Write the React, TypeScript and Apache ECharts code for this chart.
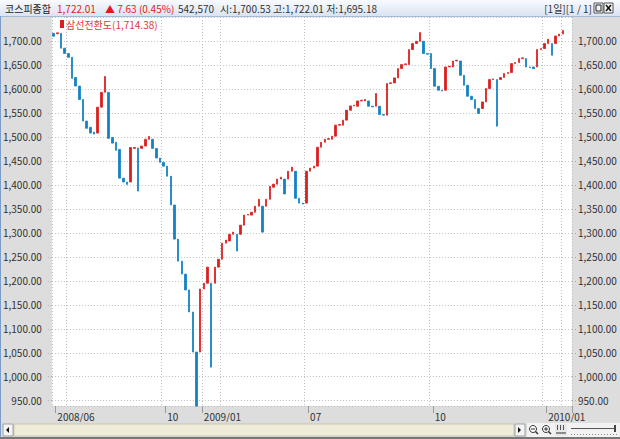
import React, { useEffect, useRef } from 'react';
import * as echarts from 'echarts';

// ---- data ----
const SERIES_NAME = '삼선전환도';
const LEGEND_VALUE = 1714.38;
const TITLE_NAME = '코스피종합';
const TITLE_PRICE = '1,722.01';
const TITLE_CHANGE = '▲ 7.63 (0.45%)';
const TITLE_VOLUME = '542,570';
const TITLE_OHL = '시:1,700.53 고:1,722.01 저:1,695.18';
const TITLE_PAGE = '[1일][1 / 1]';

// open / close of each three-line-break bar (in order)
const barOpen = [
  1716, 1715, 1716, 1685, 1674, 1666, 1624, 1606, 1578, 1533,
  1520, 1510, 1508, 1562, 1593, 1593, 1499, 1489, 1474, 1414,
  1406, 1406, 1476, 1477, 1476, 1481, 1495, 1495, 1476, 1456,
  1447, 1439, 1418, 1358, 1287, 1241, 1214, 1181, 1135, 1051.5,
  1051.5, 1183, 1195, 1195, 1195, 1228.5, 1245, 1278.5, 1283, 1297,
  1297, 1297, 1316, 1337, 1337, 1343, 1355.6, 1355.6, 1355.6, 1370,
  1395, 1401.5, 1412, 1412, 1412, 1428.5, 1428.5, 1372, 1362, 1362,
  1428.5, 1435, 1439, 1478.5, 1489, 1495, 1495, 1501.5, 1524.4, 1524.4,
  1535, 1555.6, 1564.6, 1564, 1575, 1575, 1575, 1564, 1564, 1564,
  1546.7, 1545.2, 1611.3, 1612.5, 1623, 1642.5, 1650.8, 1650.8, 1682, 1694.6,
  1699.4, 1699.4, 1673.8, 1673.8, 1642.5, 1605.6, 1597.3, 1597.3, 1645.8, 1645.8,
  1658.3, 1658.3, 1628.5, 1607.7, 1584.8, 1577.9, 1559.2, 1559.2, 1572.9, 1600.8,
  1619.6, 1619.6, 1619.6, 1623.8, 1632.1, 1634.2, 1652.9, 1655, 1663.3, 1663.3,
  1645.8, 1645.8, 1645.8, 1682.1, 1684.2, 1694.6, 1694.6, 1694.6, 1710.4, 1714.38,
];
const barClose = [
  1710, 1717, 1685, 1674, 1666, 1622, 1606, 1578, 1533, 1518,
  1508, 1506, 1562, 1593, 1626, 1497, 1487, 1472, 1414, 1406,
  1401, 1478, 1478, 1387, 1481, 1495, 1501, 1476, 1456, 1447,
  1439, 1418, 1358, 1287, 1241, 1214, 1181, 1135, 1051.5, 938.75,
  1183, 1195, 1228.5, 1020, 1228.5, 1245, 1278.5, 1285, 1297, 1301.5,
  1262, 1316, 1337, 1338.5, 1343, 1355.6, 1370, 1301.5, 1370, 1397,
  1401.5, 1412, 1416, 1381, 1428.5, 1437, 1372, 1362, 1360, 1428.5,
  1435, 1439, 1478.5, 1489, 1495, 1496.5, 1501.5, 1524.4, 1526, 1535,
  1555.6, 1564.6, 1566, 1575, 1576.5, 1578, 1564, 1562.5, 1590.4, 1546.7,
  1545.2, 1611.3, 1612.8, 1623, 1642.5, 1650.8, 1652.3, 1682, 1694.6, 1699.4,
  1717.5, 1673.8, 1672.5, 1642.5, 1605.6, 1597.3, 1595.8, 1645.8, 1647.3, 1658.3,
  1659.8, 1628.5, 1607.7, 1584.8, 1577.9, 1559.2, 1548.8, 1572.9, 1600.8, 1619.6,
  1621, 1522.3, 1623.8, 1632.1, 1634.2, 1652.9, 1655, 1663.3, 1664.8, 1645.8,
  1644.3, 1642.5, 1682.1, 1684.2, 1694.6, 1703.5, 1670.2, 1710.4, 1714.38, 1722.01,
];
const EMPTY_SLOTS = 2;
const categories: string[] = [...barOpen.map((_, i) => String(i + 1)), ...Array.from({ length: EMPTY_SLOTS }, (_, i) => 'e' + i)];

// x axis tick labels (slot index where each label begins)
const xTickIndex = [1, 31, 41, 70, 104, 135];
const xTickLabels = ['2008/06', '10', '2009/01', '07', '10', '2010/01'];
// vertical grid lines (slot boundaries)
const xGridIndex = [0, 4, 30, 41, 46, 69, 103, 134, 139];

const Y_MIN = 939;
const Y_MAX = 1750;

const RED = '#DC1E1E';
const BLUE = '#1282C4';
const FONT = "'Liberation Sans Narrow', 'Arial Narrow', 'Noto Sans CJK KR', sans-serif";

const fmt = (v: number) =>
  v.toLocaleString('en-US', { minimumFractionDigits: 2, maximumFractionDigits: 2 });

export default function App() {
  const ref = useRef<HTMLDivElement>(null);
  useEffect(() => {
    if (!ref.current) return;
    const chart = echarts.init(ref.current, undefined, { renderer: 'svg' });
    const data = barOpen.map((o, i) => {
      const c = barClose[i];
      return [o, c, Math.min(o, c), Math.max(o, c)];
    });
    const gridLine = { color: '#BDBDBD', type: [1, 2] as any, width: 1 };
    const txt = (x: number, text: string, fill: string, align = 'left') => ({
      type: 'text',
      x,
      y: 8,
      silent: true,
      style: { text, fill, fontSize: 10, fontFamily: FONT, align, verticalAlign: 'middle' },
      z: 10,
    });
    chart.setOption({
      animation: false,
      backgroundColor: '#DDDDDD',
      grid: {
        left: 48,
        right: 48,
        top: 17,
        bottom: 33,
        show: true,
        backgroundColor: '#FFFFFF',
        borderWidth: 0,
      },
      legend: {
        show: true,
        data: [SERIES_NAME],
        left: 60,
        top: 19,
        icon: 'rect',
        itemWidth: 2,
        itemHeight: 6,
        itemGap: 0,
        padding: 0,
        formatter: (n: string) => `${n}(${fmt(LEGEND_VALUE)})`,
        textStyle: { color: '#D83A3A', fontSize: 10, fontFamily: FONT, padding: [0, 0, 0, -2] },
      },
      xAxis: {
        type: 'category',
        data: categories,
        boundaryGap: true,
        axisLine: { show: false },
        axisTick: {
          show: true,
          length: 7,
          interval: (i: number) => xTickIndex.includes(i),
          lineStyle: { color: '#9A9A9A' },
        },
        axisLabel: {
          show: true,
          interval: (i: number) => xTickIndex.includes(i),
          formatter: (_v: string, i: number) => {
            const k = xTickIndex.indexOf(i);
            return k >= 0 ? xTickLabels[k] : '';
          },
          align: 'left',
          margin: 5,
          color: '#333333',
          fontSize: 10,
          fontFamily: FONT,
          hideOverlap: false,
        },
        splitLine: {
          show: true,
          interval: (i: number) => xGridIndex.includes(i),
          lineStyle: gridLine,
        },
      },
      yAxis: [
        {
          type: 'value',
          position: 'left',
          min: Y_MIN,
          max: Y_MAX,
          splitNumber: 16,
          axisLine: { show: false },
          axisTick: { show: true, length: 5, lineStyle: { color: '#AFAFAF', type: [1, 2] as any } },
          axisLabel: {
            show: true,
            showMinLabel: false,
            showMaxLabel: false,
            formatter: (v: number) => fmt(v),
            color: '#333333',
            fontSize: 10,
            fontFamily: FONT,
            margin: 10,
          },
          splitLine: { show: true, lineStyle: gridLine },
        },
        {
          type: 'value',
          position: 'right',
          min: Y_MIN,
          max: Y_MAX,
          splitNumber: 16,
          axisLine: { show: false },
          axisTick: { show: true, length: 5, lineStyle: { color: '#AFAFAF', type: [1, 2] as any } },
          axisLabel: {
            show: true,
            showMinLabel: false,
            showMaxLabel: false,
            formatter: (v: number) => fmt(v),
            color: '#333333',
            fontSize: 10,
            fontFamily: FONT,
            margin: 6,
          },
          splitLine: { show: false },
        },
      ],
      series: [
        {
          type: 'candlestick',
          name: SERIES_NAME,
          data,
          barWidth: 2,
          clip: true,
          itemStyle: {
            color: RED,
            color0: BLUE,
            borderColor: RED,
            borderColor0: BLUE,
            borderWidth: 0.8,
          },
        },
      ],
      graphic: [
        {
          type: 'rect',
          shape: { x: 0, y: 0, width: 620, height: 16 },
          style: {
            fill: new echarts.graphic.LinearGradient(0, 0, 0, 1, [
              { offset: 0, color: '#F8FAFE' },
              { offset: 1, color: '#DAE4F2' },
            ]),
          },
          silent: true,
          z: 5,
        },
        { type: 'line', shape: { x1: 0, y1: 16.5, x2: 620, y2: 16.5 }, style: { stroke: '#A6B9D6', lineWidth: 1 }, silent: true, z: 6 },
        txt(5, TITLE_NAME, '#1A1A1A'),
        txt(57, TITLE_PRICE, '#E41A1A'),
        txt(105, TITLE_CHANGE, '#E41A1A'),
        txt(178, TITLE_VOLUME, '#333333'),
        txt(220, TITLE_OHL, '#333333'),
        txt(592, TITLE_PAGE, '#333333', 'right'),
        // window buttons
        { type: 'rect', shape: { x: 594, y: 3, width: 9, height: 10 }, style: { fill: '#F2F2F2', stroke: '#555', lineWidth: 1 }, z: 10, silent: true },
        { type: 'rect', shape: { x: 596, y: 5, width: 5, height: 6 }, style: { fill: 'none', stroke: '#222', lineWidth: 1 }, z: 11, silent: true },
        { type: 'rect', shape: { x: 604, y: 3, width: 9, height: 10 }, style: { fill: '#F2F2F2', stroke: '#555', lineWidth: 1 }, z: 10, silent: true },
        { type: 'line', shape: { x1: 606, y1: 5, x2: 611, y2: 11 }, style: { stroke: '#111', lineWidth: 1.5 }, z: 11, silent: true },
        { type: 'line', shape: { x1: 611, y1: 5, x2: 606, y2: 11 }, style: { stroke: '#111', lineWidth: 1.5 }, z: 11, silent: true },
        // left frame border
        { type: 'line', shape: { x1: 0.5, y1: 16, x2: 0.5, y2: 437 }, style: { stroke: '#7B9DCB', lineWidth: 1 }, silent: true, z: 6 },
        // scrollbar row
        { type: 'rect', shape: { x: 1, y: 422, width: 619, height: 15 }, style: { fill: '#DCDCDC' }, silent: true, z: 5 },
        { type: 'rect', shape: { x: 14, y: 424, width: 500, height: 12 }, style: { fill: '#EEEBD9', stroke: '#C9C6B4', lineWidth: 1 }, silent: true, z: 6 },
        { type: 'rect', shape: { x: 3, y: 424, width: 10, height: 12 }, style: { fill: '#F4F4F4', stroke: '#A0A0A0', lineWidth: 1 }, silent: true, z: 6 },
        { type: 'polygon', shape: { points: [[9, 427], [9, 433], [6, 430]] }, style: { fill: '#111' }, silent: true, z: 7 },
        { type: 'rect', shape: { x: 515, y: 424, width: 10, height: 12 }, style: { fill: '#F4F4F4', stroke: '#A0A0A0', lineWidth: 1 }, silent: true, z: 6 },
        { type: 'polygon', shape: { points: [[518, 427], [518, 433], [521, 430]] }, style: { fill: '#111' }, silent: true, z: 7 },
        { type: 'rect', shape: { x: 527, y: 423, width: 93, height: 14 }, style: { fill: '#F2F2F2' }, silent: true, z: 6 },
        { type: 'circle', shape: { cx: 533, cy: 429, r: 3.5 }, style: { fill: '#FFF', stroke: '#333', lineWidth: 1 }, silent: true, z: 7 },
        { type: 'line', shape: { x1: 531, y1: 429, x2: 535, y2: 429 }, style: { stroke: '#333', lineWidth: 1 }, silent: true, z: 8 },
        { type: 'line', shape: { x1: 535.5, y1: 431.5, x2: 538, y2: 434 }, style: { stroke: '#333', lineWidth: 1.5 }, silent: true, z: 8 },
        { type: 'circle', shape: { cx: 546, cy: 429, r: 3.5 }, style: { fill: '#FFF', stroke: '#333', lineWidth: 1 }, silent: true, z: 7 },
        { type: 'line', shape: { x1: 544, y1: 429, x2: 548, y2: 429 }, style: { stroke: '#333', lineWidth: 1 }, silent: true, z: 8 },
        { type: 'line', shape: { x1: 546, y1: 427, x2: 546, y2: 431 }, style: { stroke: '#333', lineWidth: 1 }, silent: true, z: 8 },
        { type: 'line', shape: { x1: 548.5, y1: 431.5, x2: 551, y2: 434 }, style: { stroke: '#333', lineWidth: 1.5 }, silent: true, z: 8 },
        { type: 'rect', shape: { x: 555, y: 424, width: 12, height: 12 }, style: { fill: '#E8E8E8' }, silent: true, z: 7 },
        { type: 'line', shape: { x1: 557.5, y1: 425, x2: 557.5, y2: 430 }, style: { stroke: '#555', lineWidth: 1 }, silent: true, z: 8 },
        { type: 'line', shape: { x1: 560.5, y1: 425, x2: 560.5, y2: 430 }, style: { stroke: '#555', lineWidth: 1 }, silent: true, z: 8 },
        { type: 'line', shape: { x1: 563.5, y1: 425, x2: 563.5, y2: 430 }, style: { stroke: '#555', lineWidth: 1 }, silent: true, z: 8 },
        { type: 'line', shape: { x1: 556, y1: 433, x2: 566, y2: 433 }, style: { stroke: '#333', lineWidth: 1 }, silent: true, z: 8 },
        { type: 'line', shape: { x1: 571, y1: 428.5, x2: 615, y2: 428.5 }, style: { stroke: '#555', lineWidth: 1 }, silent: true, z: 8 },
        { type: 'line', shape: { x1: 571, y1: 434.5, x2: 617, y2: 434.5 }, style: { stroke: '#888', lineWidth: 1, lineDash: [1, 2] }, silent: true, z: 8 },
        { type: 'rect', shape: { x: 614, y: 425, width: 2, height: 7 }, style: { fill: '#444' }, silent: true, z: 8 },
        { type: 'rect', shape: { x: 0, y: 437, width: 620, height: 2 }, style: { fill: '#777777' }, silent: true, z: 6 },
      ],
    });
    return () => chart.dispose();
  }, []);
  return (
    <div
      ref={ref}
      style={{ position: 'fixed', left: 0, top: 0, width: 620, height: 439 }}
    />
  );
}
